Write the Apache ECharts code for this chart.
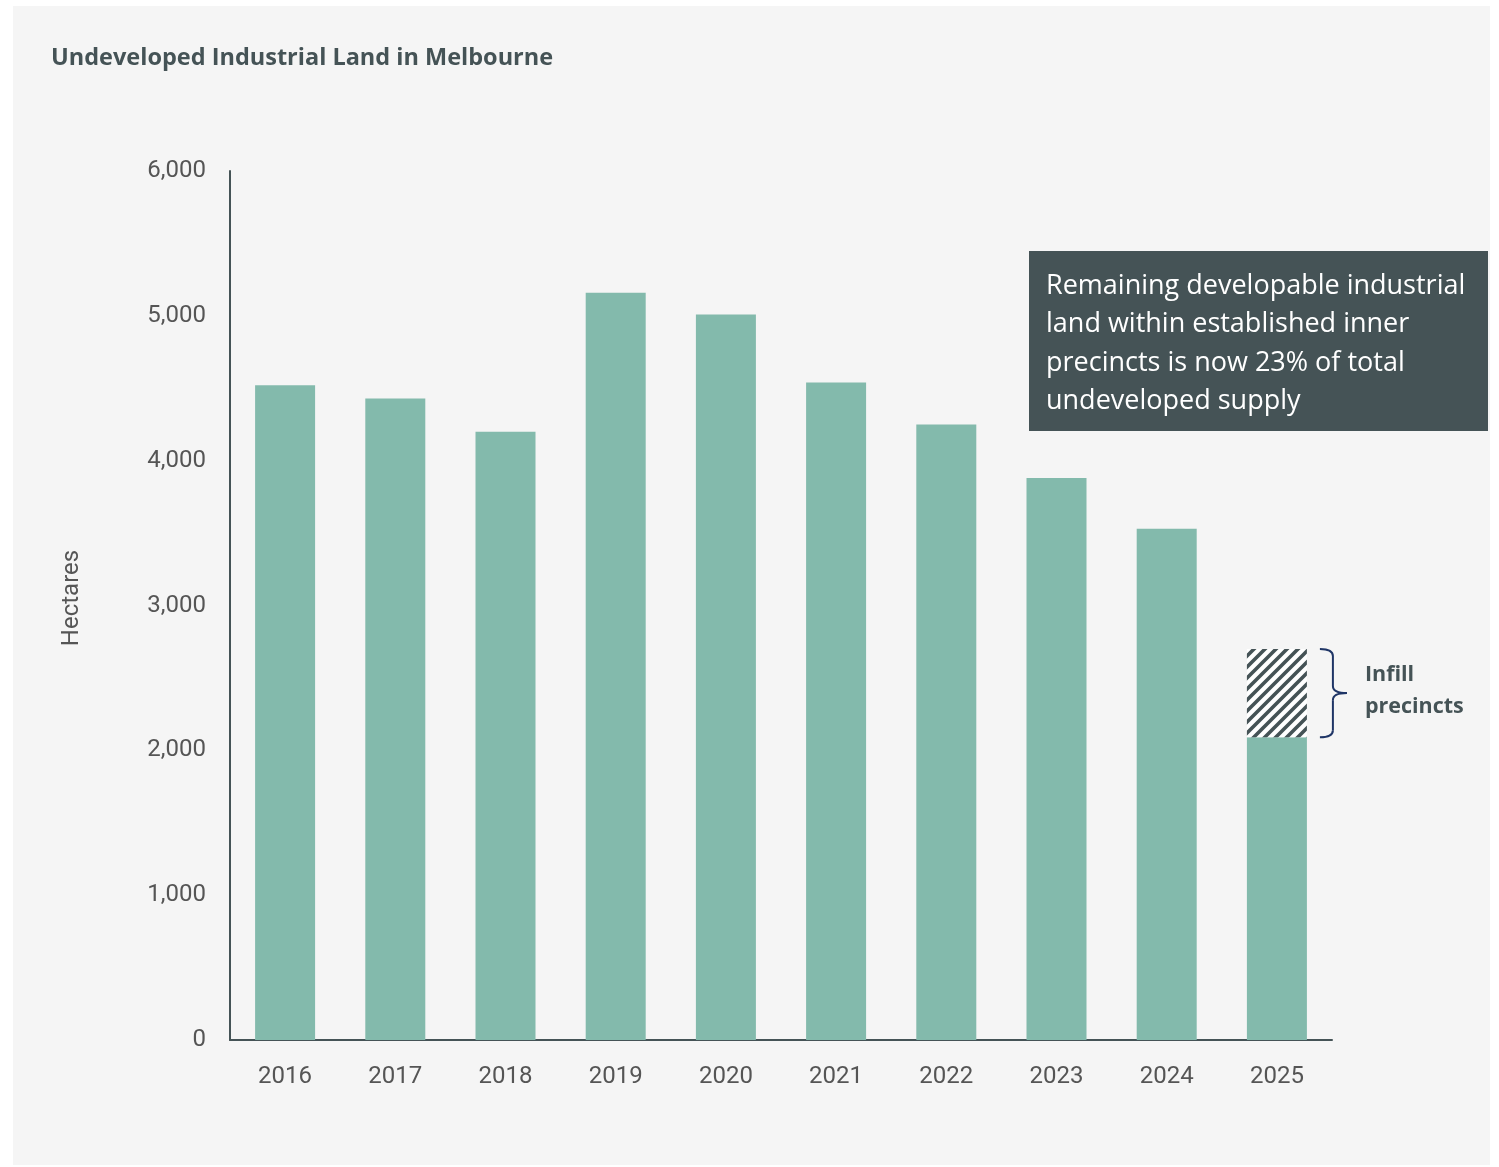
<!DOCTYPE html>
<html>
<head>
<meta charset="utf-8">
<script src="https://cdn.jsdelivr.net/npm/echarts@6/dist/echarts.min.js"></script>
<style>
  html, body { margin: 0; padding: 0; background: #ffffff; }
  #panel { position: absolute; left: 13px; top: 6px; width: 1477px; height: 1159px; background: #f5f5f5; }
  #chart { position: absolute; left: 0; top: 0; width: 1499px; height: 1167px; }
</style>
</head>
<body>
<div id="panel"></div>
<div id="chart"></div>
<script>
// data
const years = ['2016', '2017', '2018', '2019', '2020', '2021', '2022', '2023', '2024', '2025'];
const hectares = [4520, 4430, 4200, 5160, 5010, 4540, 4250, 3880, 3530, 2090];
const infill = ['-', '-', '-', '-', '-', '-', '-', '-', '-', 610];
const yTicks = [0, 1000, 2000, 3000, 4000, 5000, 6000];

const DARK = '#455356';
const GREEN = '#83baac';
const BAR_W = 60;

// hatch pattern for the infill part
function makeHatch() {
    const c = document.createElement('canvas');
    c.width = 11;
    c.height = 11;
    const ctx = c.getContext('2d');
    ctx.fillStyle = '#ffffff';
    ctx.fillRect(0, 0, 11, 11);
    ctx.strokeStyle = DARK;
    ctx.lineWidth = 3.6;
    ctx.beginPath();
    ctx.moveTo(-2, 13); ctx.lineTo(13, -2);
    ctx.moveTo(-2, 2); ctx.lineTo(2, -2);
    ctx.moveTo(9, 13); ctx.lineTo(13, 9);
    ctx.stroke();
    return c;
}

const chart = echarts.init(document.getElementById('chart'), null, { renderer: 'canvas' });

const option = {
    animation: false,
    backgroundColor: 'transparent',
    textStyle: { fontFamily: 'Roboto' },
    title: {
        text: 'Undeveloped Industrial Land in Melbourne',
        left: 46,
        top: 41,
        textStyle: { color: DARK, fontSize: 23.5, fontWeight: 'bold', fontFamily: 'Open Sans' }
    },
    grid: { left: 230, right: 167, top: 171, bottom: 127 },
    xAxis: {
        type: 'category',
        data: years,
        axisLine: { lineStyle: { color: DARK, width: 2 } },
        axisTick: { show: false },
        axisLabel: { color: '#555555', fontSize: 24, margin: 25 }
    },
    yAxis: {
        type: 'value',
        min: yTicks[0],
        max: yTicks[yTicks.length - 1],
        interval: 1000,
        axisLine: { show: true, lineStyle: { color: DARK, width: 2 } },
        axisTick: { show: false },
        splitLine: { show: false },
        axisLabel: {
            color: '#555555',
            fontSize: 24,
            margin: 24,
            formatter: v => v.toLocaleString('en-US')
        }
    },
    series: [
        {
            name: 'Undeveloped',
            type: 'bar',
            stack: 'land',
            barWidth: BAR_W,
            data: hectares,
            itemStyle: { color: GREEN }
        },
        {
            name: 'Infill precincts',
            type: 'bar',
            stack: 'land',
            barWidth: BAR_W,
            data: infill,
            itemStyle: { color: { image: makeHatch(), repeat: 'repeat' } }
        }
    ]
};
chart.setOption(option);

// brace + labels placed from the axes
const last = years.length - 1;
const cx = chart.convertToPixel({ xAxisIndex: 0 }, years[last]);
const yBase = chart.convertToPixel({ yAxisIndex: 0 }, hectares[last]);
const yTop = chart.convertToPixel({ yAxisIndex: 0 }, hectares[last] + infill[last]);
const bx = cx + BAR_W / 2 + 26;
const bl = bx - 13;
const mid = (yBase + yTop) / 2;
const r = 7;
const braceStyle = { stroke: '#1f3566', lineWidth: 2, fill: null };

function curve(x1, y1, cpx, cpy, x2, y2) {
    return { type: 'bezierCurve', shape: { x1, y1, cpx1: cpx, cpy1: cpy, x2, y2 }, style: braceStyle };
}
function seg(x1, y1, x2, y2) {
    return { type: 'line', shape: { x1, y1, x2, y2 }, style: braceStyle };
}

chart.setOption({
    graphic: [
        curve(bl, yTop, bx, yTop, bx, yTop + r),
        seg(bx, yTop + r, bx, mid - r),
        curve(bx, mid - r, bx, mid, bx + 14, mid),
        curve(bx + 14, mid, bx, mid, bx, mid + r),
        seg(bx, mid + r, bx, yBase - r),
        curve(bx, yBase - r, bx, yBase, bl, yBase),
        {
            type: 'text',
            x: 72,
            y: 598,
            rotation: Math.PI / 2,
            style: {
                text: 'Hectares',
                fill: '#555555',
                font: '24px Roboto',
                align: 'center',
                verticalAlign: 'middle'
            }
        },
        {
            type: 'text',
            left: bx + 32,
            top: mid - 34,
            style: {
                text: 'Infill\nprecincts',
                fill: DARK,
                font: 'bold 21.5px "Open Sans"',
                lineHeight: 32
            }
        },
        {
            type: 'rect',
            left: 1029,
            top: 251,
            shape: { width: 459, height: 180 },
            style: { fill: DARK }
        },
        {
            type: 'text',
            left: 1046,
            top: 267,
            style: {
                text: 'Remaining developable industrial\nland within established inner\nprecincts is now 23% of total\nundeveloped supply',
                fill: '#ffffff',
                font: '27px "Open Sans"',
                lineHeight: 38.5
            }
        }
    ]
});
</script>
</body>
</html>
